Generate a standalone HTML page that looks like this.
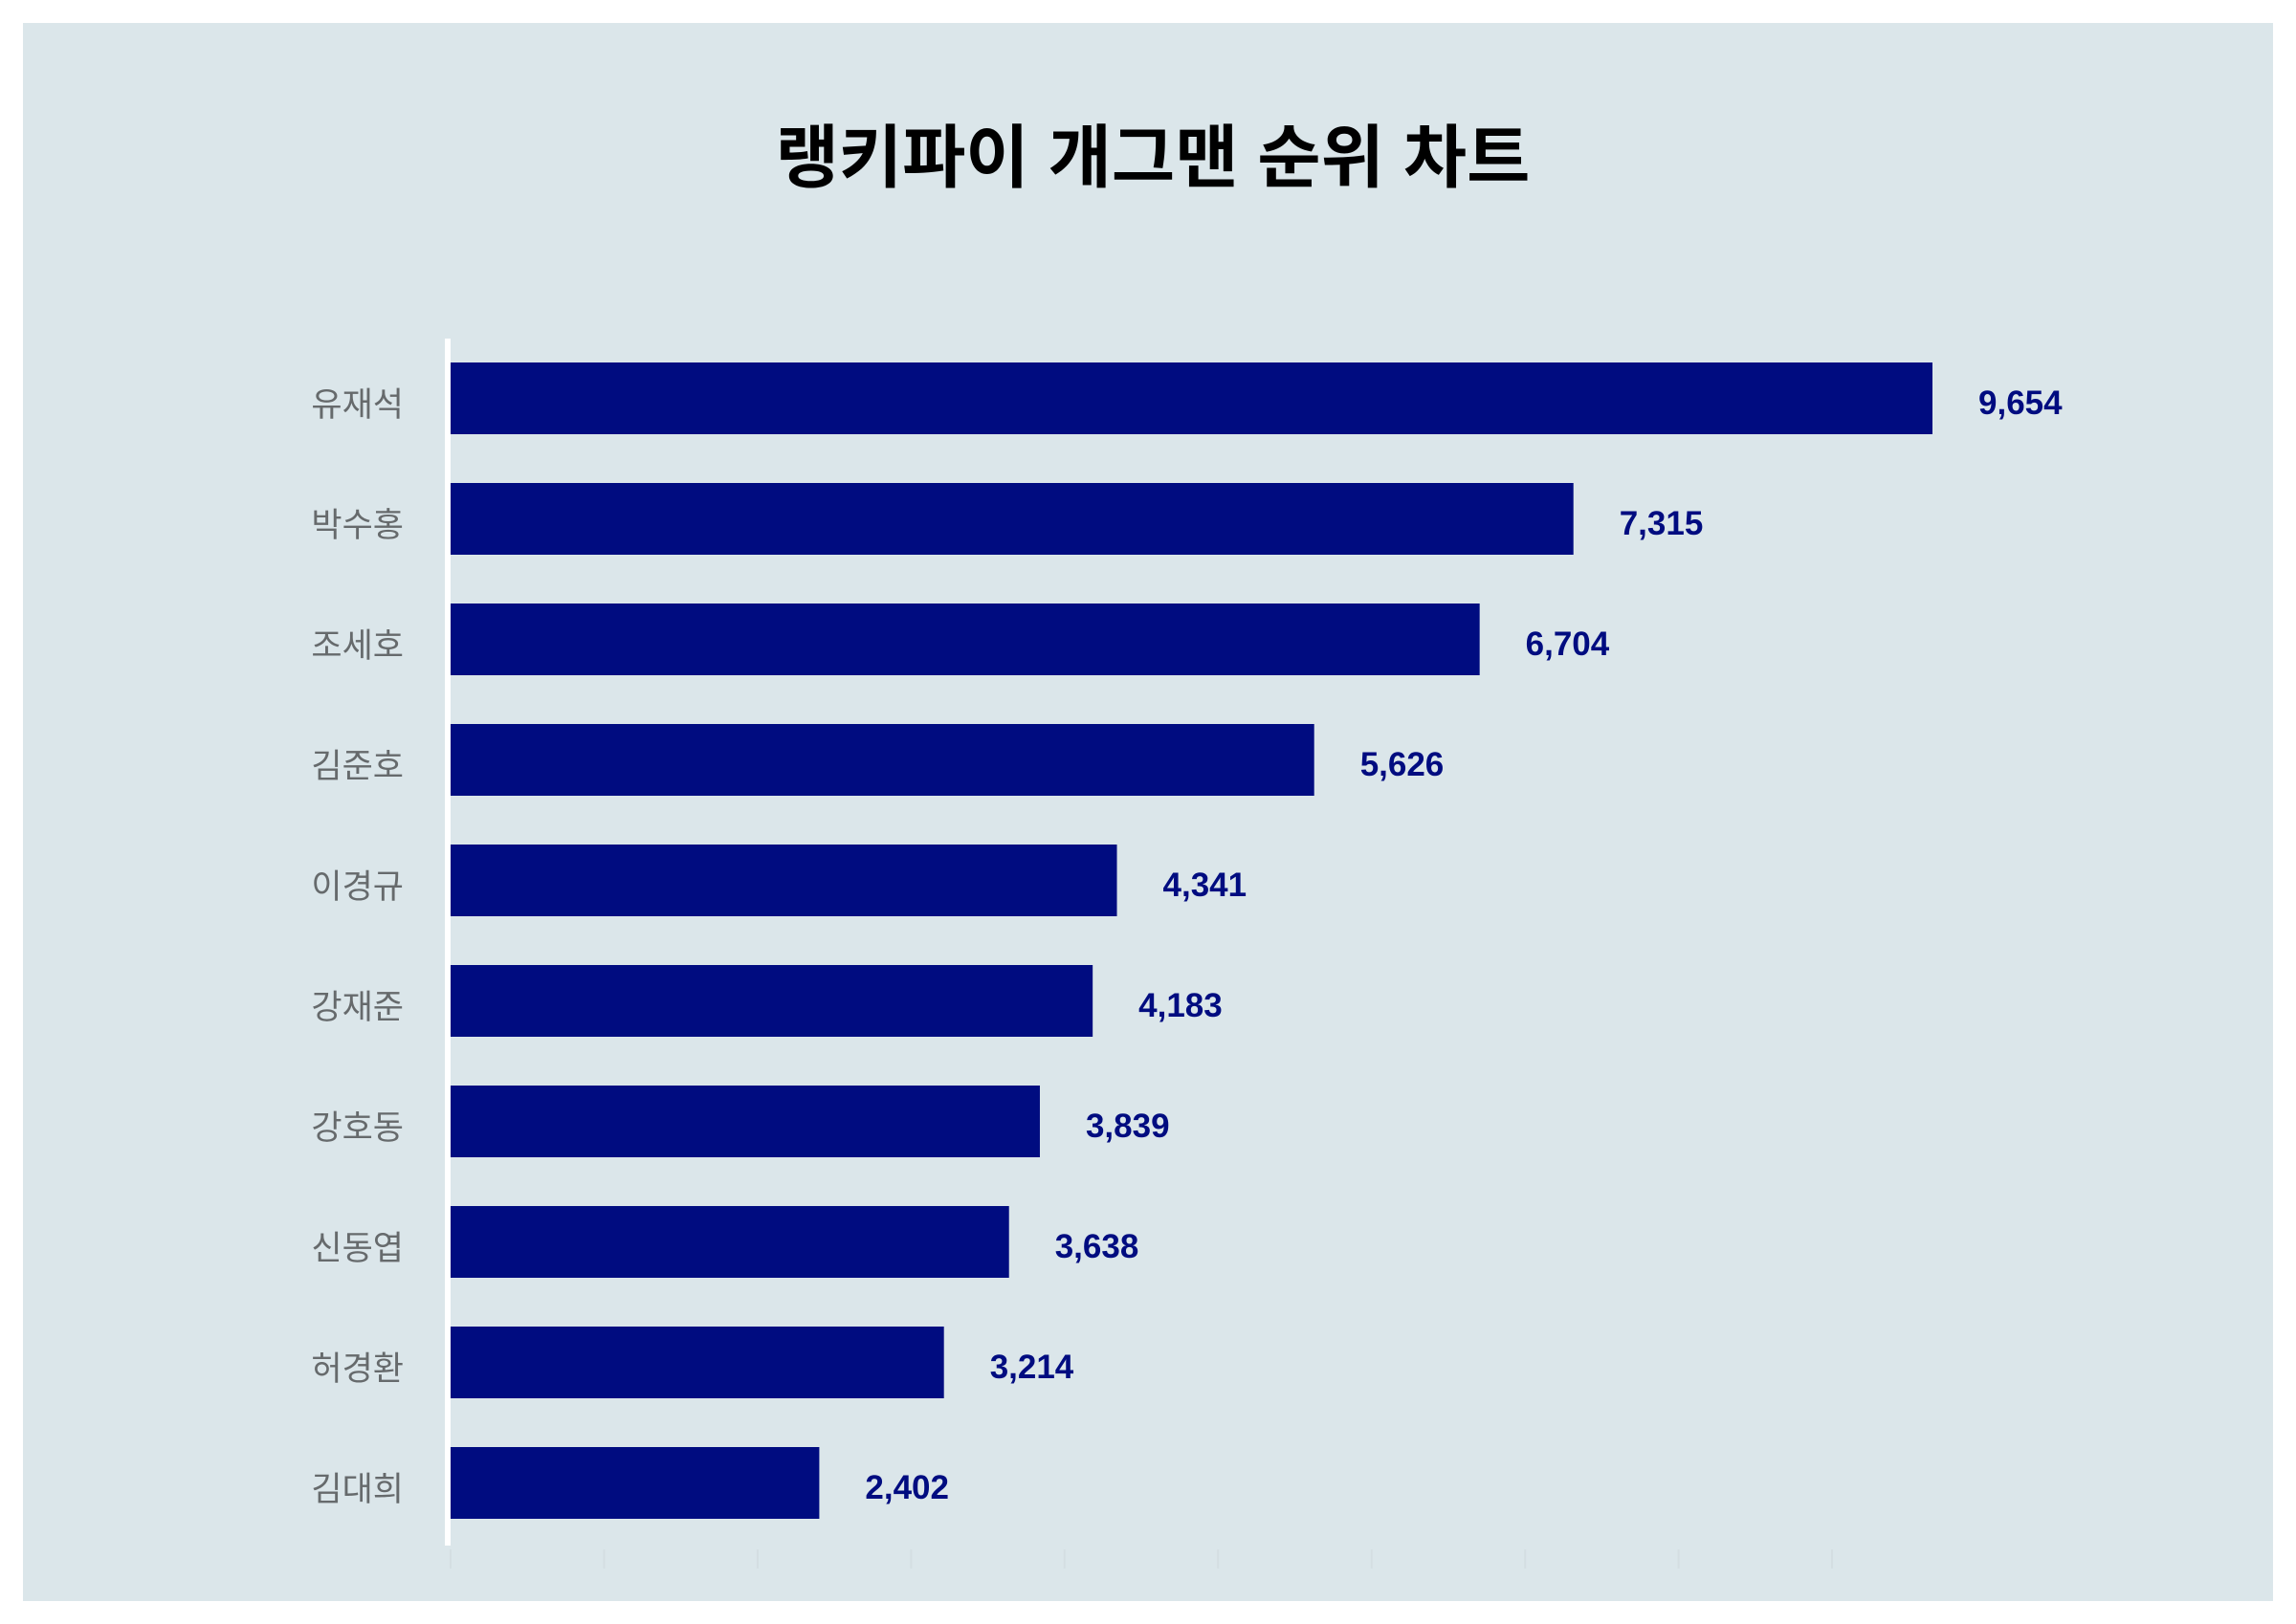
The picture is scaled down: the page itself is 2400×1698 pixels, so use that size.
<!DOCTYPE html>
<html><head><meta charset="utf-8"><style>
html,body{margin:0;padding:0;background:#fff;}
svg{display:block;}
</style></head><body>
<svg id="chart" width="2400" height="1698" xmlns="http://www.w3.org/2000/svg">
<rect x="24" y="24" width="2352" height="1650" fill="#dbe6ea"/>
<text x="1205" y="190" text-anchor="middle" font-family="'Liberation Sans','Noto Sans CJK KR',sans-serif" font-weight="bold" font-size="72" fill="#000">랭키파이 개그맨 순위 차트</text>
<g id="ticks"></g>
<g id="bars"></g>
<rect x="465" y="354" width="6" height="1262" fill="#ffffff"/>
</svg>
<script>
const categories = ["유재석","박수홍","조세호","김준호","이경규","강재준","강호동","신동엽","허경환","김대희"];
const values = [9654,7315,6704,5626,4341,4183,3839,3638,3214,2402];
const tickValues = [0,1000,2000,3000,4000,5000,6000,7000,8000,9000];

const NS = "http://www.w3.org/2000/svg";
const x0 = 471, pxPerUnit = (2020 - 471) / 9654;
const xScale = v => x0 + v * pxPerUnit;
const yTop = 379, pitch = 126, barH = 75;
const yScale = i => yTop + i * pitch;
const fmt = v => v.toLocaleString("en-US");
const bars = document.getElementById("bars");
const ticks = document.getElementById("ticks");

tickValues.forEach(t => {
  const l = document.createElementNS(NS, "line");
  
  
  l.setAttribute("x1", xScale(t)); l.setAttribute("x2", xScale(t));
  l.setAttribute("y1", 1620); l.setAttribute("y2", 1640);
  l.setAttribute("stroke", "#d4dee2"); l.setAttribute("stroke-width", 2);
  ticks.appendChild(l);
});

categories.forEach((c, i) => {
  const y = yScale(i);
  const r = document.createElementNS(NS, "rect");
  
  
  r.setAttribute("x", x0); r.setAttribute("y", y);
  r.setAttribute("width", xScale(values[i]) - x0); r.setAttribute("height", barH);
  r.setAttribute("fill", "#000c80");
  bars.appendChild(r);

  const lab = document.createElementNS(NS, "text");
  
  
  lab.setAttribute("x", 422); lab.setAttribute("y", y + 56);
  lab.setAttribute("text-anchor", "end");
  lab.setAttribute("font-family", "'Liberation Sans','Noto Sans CJK KR',sans-serif");
  lab.setAttribute("font-size", "35"); lab.setAttribute("fill", "#666a6c");
  lab.textContent = c;
  bars.appendChild(lab);

  const val = document.createElementNS(NS, "text");
  
  
  val.setAttribute("x", xScale(values[i]) + 48); val.setAttribute("y", y + 54);
  val.setAttribute("font-family", "'Liberation Sans','Noto Sans CJK KR',sans-serif");
  val.setAttribute("font-weight", "bold");
  val.setAttribute("font-size", "35"); val.setAttribute("fill", "#000c80");
  val.textContent = fmt(values[i]);
  bars.appendChild(val);
});
</script>
</body></html>
